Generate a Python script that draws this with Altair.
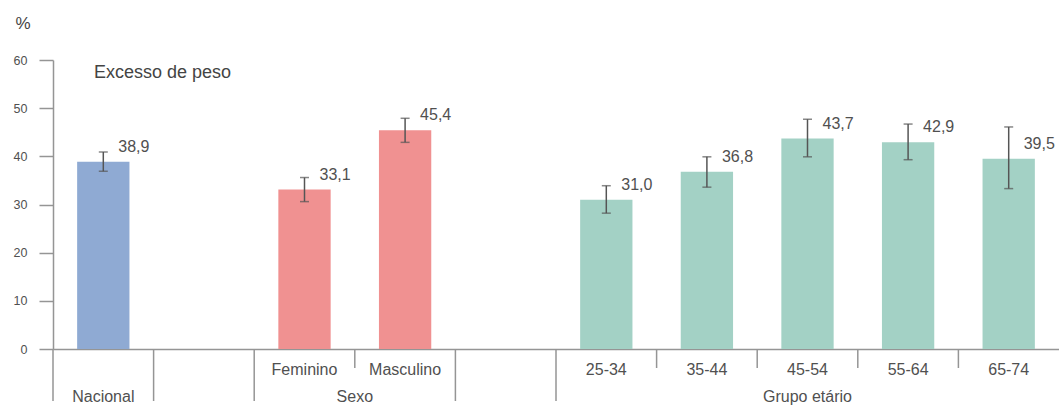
import altair as alt
import pandas as pd

# ---- data -------------------------------------------------------------
categories = ["Nacional", " ", "Feminino", "Masculino", "  ",
              "25-34", "35-44", "45-54", "55-64", "65-74"]
groups = ["Nacional", "", "Sexo", "Sexo", "",
          "Grupo etário", "Grupo etário", "Grupo etário", "Grupo etário", "Grupo etário"]

bar_categories = ["Nacional", "Feminino", "Masculino",
                  "25-34", "35-44", "45-54", "55-64", "65-74"]
values = [38.9, 33.1, 45.4, 31.0, 36.8, 43.7, 42.9, 39.5]
ci_low = [36.9, 30.6, 42.9, 28.2, 33.6, 39.9, 39.3, 33.3]
ci_high = [40.9, 35.6, 47.9, 33.9, 39.9, 47.7, 46.7, 46.1]

group_names = ["Nacional", "Sexo", "Grupo etário"]
group_colors = ["#8FAAD3", "#F09191", "#A3D1C5"]
y_ticks = [0, 10, 20, 30, 40, 50, 60]
panel_title = ["Excesso de peso"]

# ---- tables built from the arrays -------------------------------------
grp_of = dict(zip(categories, groups))
bars = pd.DataFrame({
    "cat": bar_categories,
    "value": values,
    "lo": ci_low,
    "hi": ci_high,
    "group": [grp_of[c] for c in bar_categories],
    "label": [f"{v:.1f}".replace(".", ",") for v in values],
})

sep = pd.DataFrame({
    "cat": categories,
    "kind": ["long" if i == 0 or groups[i] != groups[i - 1] else "short"
             for i in range(len(categories))],
})

grp_rows = []
for g in group_names:
    members = [c for c, gg in zip(categories, groups) if gg == g]
    n = len(members)
    grp_rows.append({"cat": members[n // 2], "label": g,
                     "pos": "center" if n % 2 else "start"})
grp_df = pd.DataFrame(grp_rows)
title_df = pd.DataFrame({"t": panel_title})

# ---- chart ----------------------------------------------------------
W, H = 1006, 289
FONT = "Liberation Sans"
AX = "#959595"
TXT = "#505050"

xscale = alt.Scale(domain=categories, paddingInner=0, paddingOuter=0)

x_axis = alt.Axis(
    title=None, ticks=False, domain=True, domainColor=AX, domainWidth=1.5,
    labelExpr="datum.value == 'Nacional' ? '' : datum.value",
    labelFontSize=16, labelColor=TXT, labelPadding=12, labelAngle=0,
)
y_axis = alt.Axis(
    values=y_ticks, grid=False, tickSize=14, tickColor=AX, tickWidth=1.5,
    domainColor=AX, domainWidth=1.5, labelPadding=12, labelFontSize=12.5,
    labelColor=TXT, title="%", titleAngle=0, titleAlign="left",
    titleBaseline="alphabetic", titleX=-38, titleY=-32, titleFontSize=17,
    titleFontWeight="normal", titleColor="#444444",
)

base = alt.Chart(bars)
X = alt.X("cat:N")

bar_layer = base.mark_bar(width=alt.RelativeBandSize(0.52)).encode(
    x=alt.X("cat:N", scale=xscale, axis=x_axis, sort=categories),
    y=alt.Y("value:Q", scale=alt.Scale(domain=[0, 60], nice=False), axis=y_axis),
    color=alt.Color("group:N", scale=alt.Scale(domain=group_names, range=group_colors),
                    legend=None),
)

err_rule = base.mark_rule(color="#555555", strokeWidth=1.5).encode(
    x=X, y="lo:Q", y2="hi:Q")
err_lo = base.mark_tick(color="#555555", size=9, thickness=1.5).encode(
    x=X, y="lo:Q")
err_hi = base.mark_tick(color="#555555", size=9, thickness=1.5).encode(
    x=X, y="hi:Q")

val_text = base.mark_text(align="left", baseline="middle", dx=15, dy=-15,
                          fontSize=16, color=TXT).encode(
    x=X, y="value:Q", text="label:N")

sep_long = alt.Chart(sep).transform_filter("datum.kind == 'long'").mark_rule(
    color=AX, strokeWidth=1.5).encode(
    x=alt.X("cat:N", bandPosition=0),
    y=alt.value(H), y2=alt.value(H + 52))
sep_short = alt.Chart(sep).transform_filter("datum.kind == 'short'").mark_rule(
    color=AX, strokeWidth=1.5).encode(
    x=alt.X("cat:N", bandPosition=0),
    y=alt.value(H), y2=alt.value(H + 19))

grp_center = alt.Chart(grp_df).transform_filter("datum.pos == 'center'").mark_text(
    baseline="alphabetic", align="center", fontSize=16, color=TXT).encode(
    x=alt.X("cat:N", bandPosition=0.5),
    y=alt.value(H + 52.5), text="label:N")
grp_start = alt.Chart(grp_df).transform_filter("datum.pos == 'start'").mark_text(
    baseline="alphabetic", align="center", fontSize=16, color=TXT).encode(
    x=alt.X("cat:N", bandPosition=0),
    y=alt.value(H + 52.5), text="label:N")

title_layer = alt.Chart(title_df).mark_text(
    align="left", baseline="alphabetic", fontSize=18, color="#444444").encode(
    x=alt.value(41), y=alt.value(18), text="t:N")

chart = alt.layer(
    bar_layer, err_rule, err_lo, err_hi, val_text,
    sep_long, sep_short, grp_center, grp_start, title_layer,
).properties(
    width=W, height=H,
    autosize=alt.AutoSizeParams(type="none"),
    padding={"left": 53, "top": 60, "right": 0, "bottom": 58},
).configure(font=FONT, background="white").configure_view(stroke=None)

chart.save("out.html", embed_options={"renderer": "svg", "actions": False})
